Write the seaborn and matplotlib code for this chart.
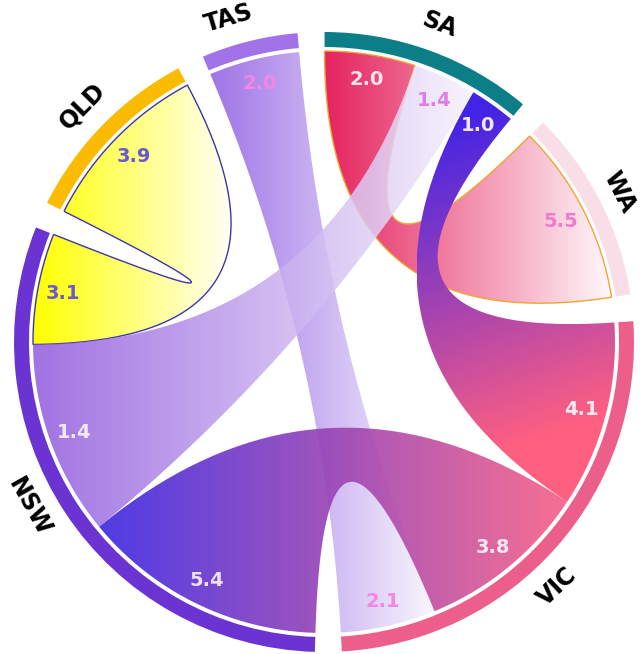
import numpy as np
import matplotlib
matplotlib.use("Agg")
import matplotlib.pyplot as plt
from matplotlib.path import Path
from matplotlib.patches import PathPatch, Wedge
import seaborn as sns

# ---------------- data ----------------
regions = ["TAS", "SA", "WA", "VIC", "NSW", "QLD"]
region_colors = ["#a273e8", "#0b7e87", "#f9dde7", "#ec5f8a", "#6b34d2", "#fbbb00"]

chord_source = ["QLD", "SA", "TAS", "SA", "SA", "NSW"]
chord_target = ["NSW", "WA", "VIC", "NSW", "VIC", "VIC"]
# ribbon end widths
source_width = [3.9, 2.0, 2.0, 1.4, 1.0, 5.4]
target_width = [2.45, 4.0, 2.1, 4.3, 4.1, 3.8]
# numbers printed on the ribbon ends
source_label = ["3.9", "2.0", "2.0", "1.4", "1.0", "5.4"]
target_label = ["3.1", "5.5", "2.1", "1.4", "4.1", "3.8"]

# ---------------- style ----------------
chord_colors = [("#ffff00", "#fffff6"), ("#e6245f", "#fff8fa"), ("#8a55e2", "#f8f5fe"),
                ("#905ade", "#f6f2fd"), ("#4224e6", "#ff6080"), ("#3e2ae2", "#f76289")]
chord_alpha = [1.0, 1.0, 0.82, 0.85, 1.0, 0.92]
chord_edge = ["#3c36a6", "#f2a430", None, None, None, None]
gradient_mode = ["x", "x", "x", "x", "ends", "x"]
src_label_color = ["#6a58d2", "#fbe4ee", "#f386e6", "#e07ee6", "#f2e4fa", "#efdff9"]
tgt_label_color = ["#6a58d2", "#f07ad2", "#f386e6", "#f4e6fa", "#fde9f1", "#fde6f1"]
label_shift = {"TAS": -2.5, "VIC": 5.0, "NSW": 4.0}
label_radius = {"WA": 331}

sns.set_theme(style="white")
plt.rcParams["font.family"] = ["DejaVu Sans"]

PAD = 5.0          # degrees between groups
START = -23.0      # start angle, clockwise from 12 o'clock
R_CH = 291.0
R_IN, R_OUT = 295.0, 310.0

# group totals and subgroup layout
totals = {g: 0.0 for g in regions}
ends = {g: [] for g in regions}   # (width, chord index, 'src'/'tgt')
for i, (s, t) in enumerate(zip(chord_source, chord_target)):
    totals[s] += source_width[i]
    totals[t] += target_width[i]
    ends[s].append((source_width[i], i, "src"))
    ends[t].append((target_width[i], i, "tgt"))
k = (360.0 - PAD * len(regions)) / sum(totals.values())

group_ang = {}
end_ang = {}
a = START
for g in regions:
    g0 = a
    for w, i, side in sorted(ends[g], key=lambda e: -e[0]):
        end_ang[(i, side)] = (a, a + w * k)
        a += w * k
    group_ang[g] = (g0, a)
    a += PAD


def pt(theta, r):
    th = np.deg2rad(theta)
    return np.array([r * np.sin(th), r * np.cos(th)])


def arc(a0, a1, r, n=80):
    th = np.deg2rad(np.linspace(a0, a1, n))
    return np.column_stack([r * np.sin(th), r * np.cos(th)])


def quad(p0, p2, n=80):
    t = np.linspace(0, 1, n)[:, None]
    return (1 - t) ** 2 * p0 + t ** 2 * p2


fig = plt.figure(figsize=(6.43, 6.54), dpi=100)
ax = fig.add_axes([0, 0, 1, 1])
ax.set_xlim(-324, 319)
ax.set_ylim(-312, 342)
ax.set_aspect("equal")
ax.axis("off")

# ribbons
for i in range(len(chord_source)):
    s0, s1 = end_ang[(i, "src")]
    t0, t1 = end_ang[(i, "tgt")]
    verts = np.vstack([arc(s0, s1, R_CH),
                       quad(pt(s1, R_CH), pt(t0, R_CH)),
                       arc(t0, t1, R_CH),
                       quad(pt(t1, R_CH), pt(s0, R_CH))])
    path = Path(verts, closed=False)
    patch = PathPatch(path, facecolor="none", edgecolor="none")
    ax.add_patch(patch)
    xmin, ymin = verts.min(axis=0)
    xmax, ymax = verts.max(axis=0)
    X, Y = np.meshgrid(np.linspace(xmin, xmax, 300), np.linspace(ymin, ymax, 300))
    if gradient_mode[i] == "x":
        T = (X - xmin) / (xmax - xmin)
    else:
        p0 = pt((s0 + s1) / 2, R_CH)
        p1 = pt((t0 + t1) / 2, R_CH)
        d = p1 - p0
        T = ((X - p0[0]) * d[0] + (Y - p0[1]) * d[1]) / (d @ d)
    T = np.clip(T, 0, 1)
    cmap = sns.blend_palette(list(chord_colors[i]), as_cmap=True)
    im = ax.imshow(T, cmap=cmap, vmin=0, vmax=1, extent=[xmin, xmax, ymin, ymax],
                   origin="lower", interpolation="bilinear", alpha=chord_alpha[i],
                   zorder=2 + i * 0.1)
    im.set_clip_path(patch)
    if chord_edge[i]:
        ax.add_patch(PathPatch(path, facecolor="none", edgecolor=chord_edge[i],
                               lw=1.0, zorder=2 + i * 0.1 + 0.05))

# rings and group labels
for g, c in zip(regions, region_colors):
    a0, a1 = group_ang[g]
    ax.add_patch(Wedge((0, 0), R_OUT, 90 - a1, 90 - a0, width=R_OUT - R_IN,
                       facecolor=c, edgecolor="none", zorder=3))
    mid = (a0 + a1) / 2 + label_shift.get(g, 0.0)
    m = mid % 360
    rot = -m if (m < 90 or m > 270) else 180 - m
    x, y = pt(mid, label_radius.get(g, 338))
    ax.text(x, y, g, rotation=rot, rotation_mode="anchor", ha="center", va="center",
            fontsize=17, fontweight="bold", color="black", zorder=5)

# value labels
for i in range(len(chord_source)):
    for side, lab, col in (("src", source_label[i], src_label_color[i]),
                           ("tgt", target_label[i], tgt_label_color[i])):
        b0, b1 = end_ang[(i, side)]
        x, y = pt((b0 + b1) / 2, 266)
        ax.text(x, y, lab, ha="center", va="center", fontsize=14,
                fontweight="bold", color=col, zorder=6)

fig.savefig("out.png", dpi=100)
